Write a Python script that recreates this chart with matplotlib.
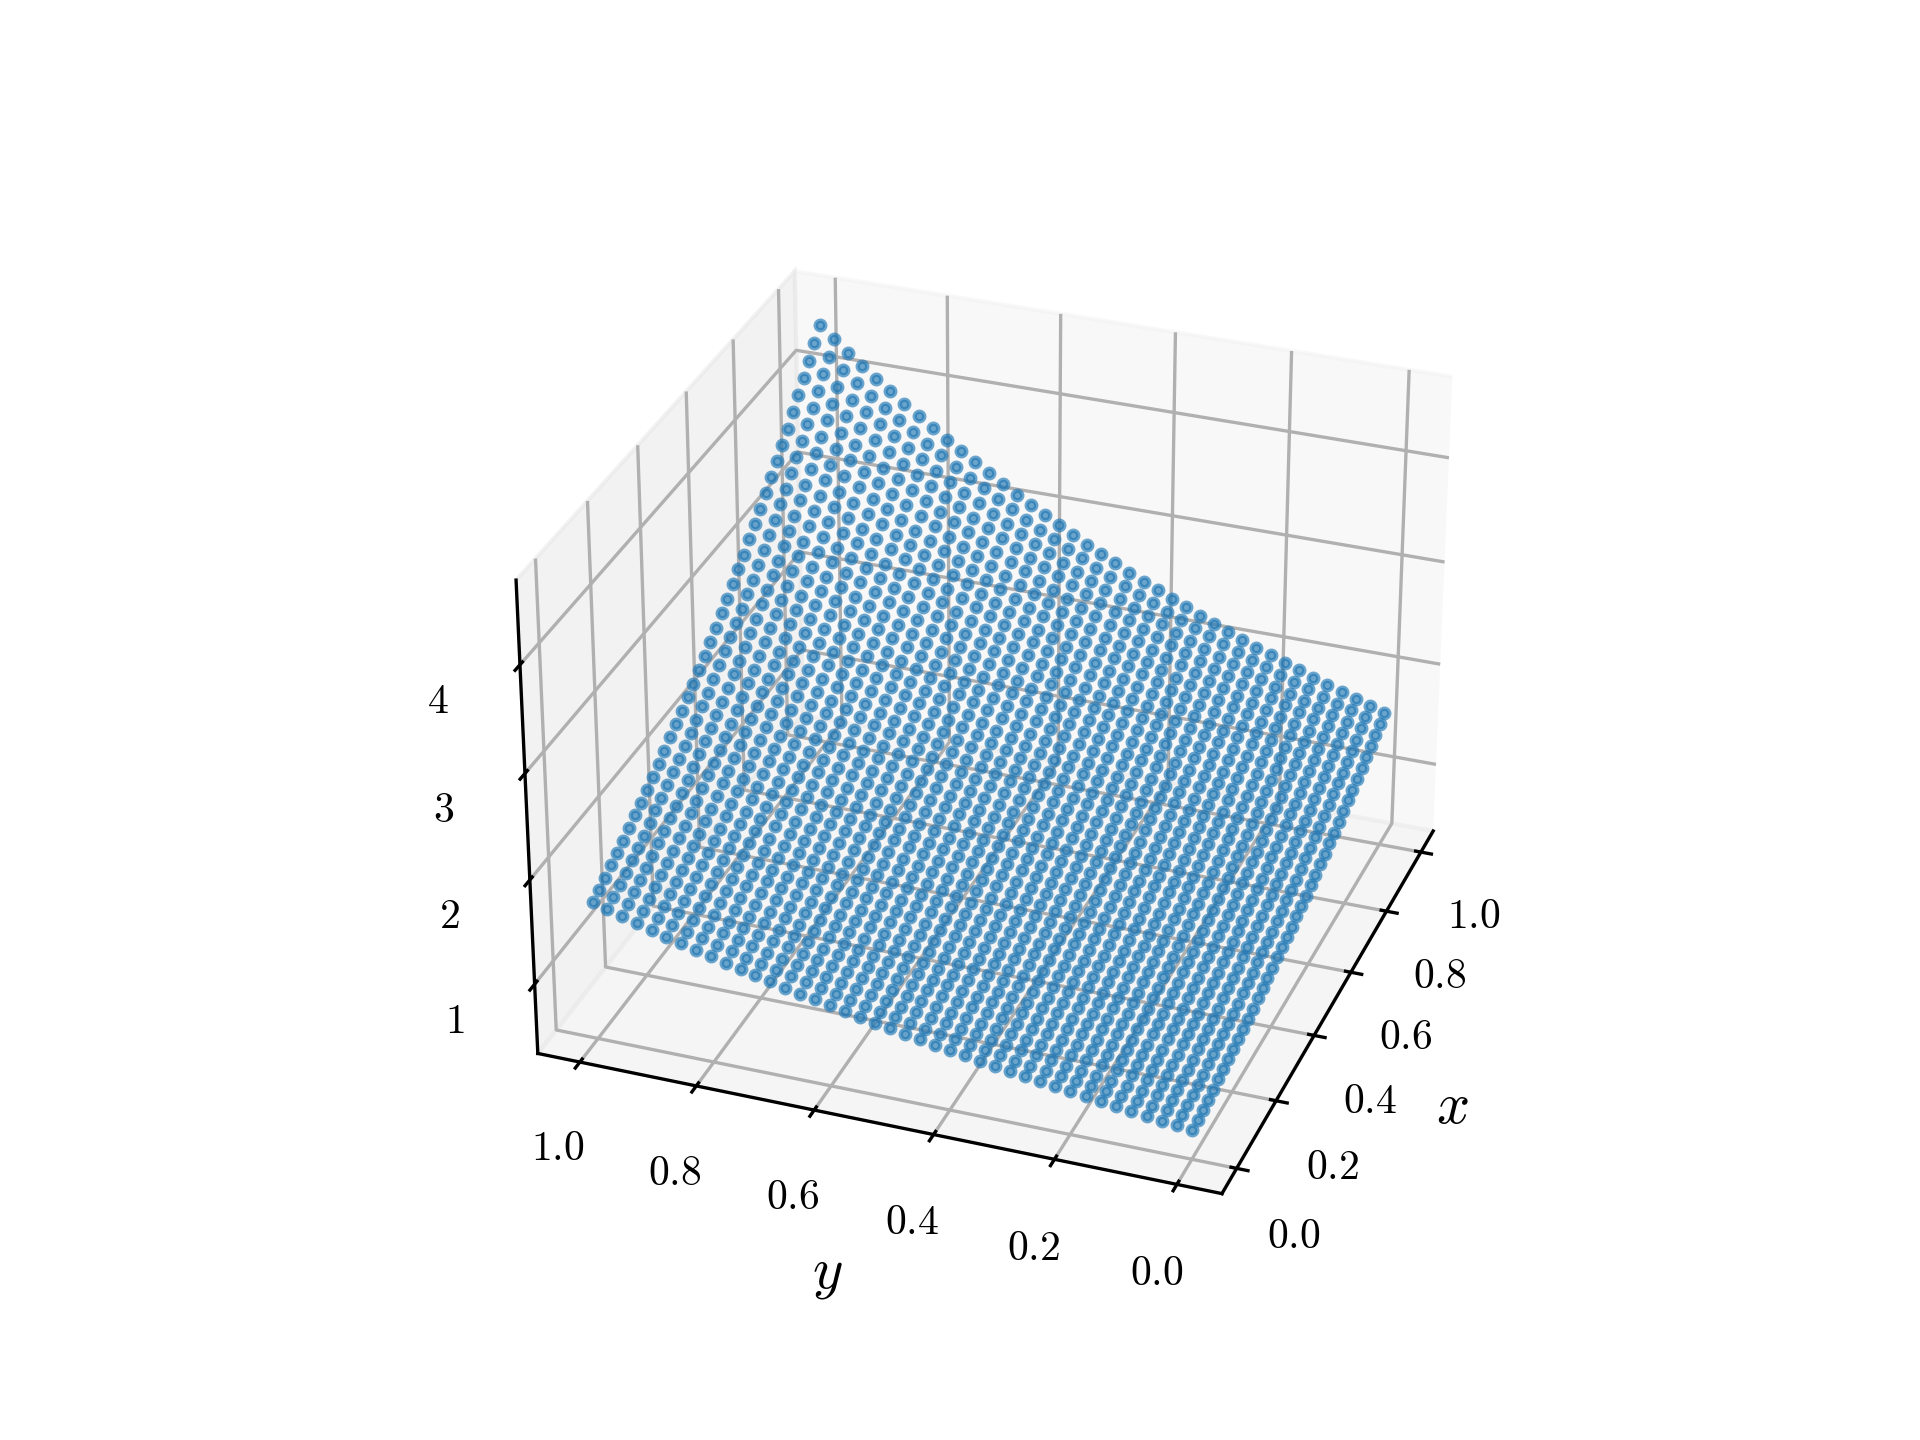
import numpy as np
import matplotlib
matplotlib.use("Agg")
import matplotlib.pyplot as plt

plt.rcParams['mathtext.fontset'] = 'cm'
plt.rcParams['font.family'] = 'serif'
plt.rcParams['font.serif'] = ['cmr10', 'DejaVu Serif']
plt.rcParams['axes.formatter.use_mathtext'] = True

# Grid coordinates, shared by both axes
grid_values = [0.000, 0.025, 0.050, 0.075, 0.100, 0.125, 0.150, 0.175, 0.200, 0.225,
               0.250, 0.275, 0.300, 0.325, 0.350, 0.375, 0.400, 0.425, 0.450, 0.475,
               0.500, 0.525, 0.550, 0.575, 0.600, 0.625, 0.650, 0.675, 0.700, 0.725,
               0.750, 0.775, 0.800, 0.825, 0.850, 0.875, 0.900, 0.925, 0.950, 0.975,
               1.000]

# Surface height read along each anti-diagonal of the grid (index = column + row)
z_levels = [0.607, 0.622, 0.638, 0.654, 0.670, 0.687, 0.705, 0.723, 0.741, 0.760,
            0.779, 0.799, 0.819, 0.839, 0.861, 0.882, 0.905, 0.928, 0.951, 0.975,
            1.000, 1.025, 1.051, 1.078, 1.105, 1.133, 1.162, 1.191, 1.221, 1.252,
            1.284, 1.317, 1.350, 1.384, 1.419, 1.455, 1.492, 1.530, 1.568, 1.608,
            1.649, 1.691, 1.733, 1.777, 1.822, 1.868, 1.916, 1.964, 2.014, 2.065,
            2.117, 2.171, 2.226, 2.282, 2.340, 2.399, 2.460, 2.522, 2.586, 2.651,
            2.718, 2.787, 2.858, 2.930, 3.004, 3.080, 3.158, 3.238, 3.320, 3.404,
            3.490, 3.579, 3.669, 3.762, 3.857, 3.955, 4.055, 4.158, 4.263, 4.371,
            4.482]

xy_ticks = [0.0, 0.2, 0.4, 0.6, 0.8, 1.0]
xy_tick_labels = ['$0.0$', '$0.2$', '$0.4$', '$0.6$', '$0.8$', '$1.0$']
z_ticks = [1, 2, 3, 4]
z_tick_labels = ['$1$', '$2$', '$3$', '$4$']

grid = np.array(grid_values)
levels = np.array(z_levels)
J, I = np.meshgrid(np.arange(grid.size), np.arange(grid.size))
X = grid[J]
Y = grid[I]
Z = levels[I + J]

fig = plt.figure(figsize=(6.4, 4.8), dpi=300)
ax = fig.add_subplot(projection='3d')
ax.scatter(X.ravel(), Y.ravel(), Z.ravel(), s=5.2, linewidths=1.05, alpha=0.65,
           depthshade=False, color='C0')
ax.view_init(elev=30, azim=200)
ax.set_xticks(xy_ticks)
ax.set_xticklabels(xy_tick_labels, fontsize=10)
ax.set_yticks(xy_ticks)
ax.set_yticklabels(xy_tick_labels, fontsize=10)
ax.set_zticks(z_ticks)
ax.set_zticklabels(z_tick_labels, fontsize=10)
ax.set_xlabel('$x$', fontsize=14)
ax.set_ylabel('$y$', fontsize=14)
fig.savefig('out.png', dpi=300)
